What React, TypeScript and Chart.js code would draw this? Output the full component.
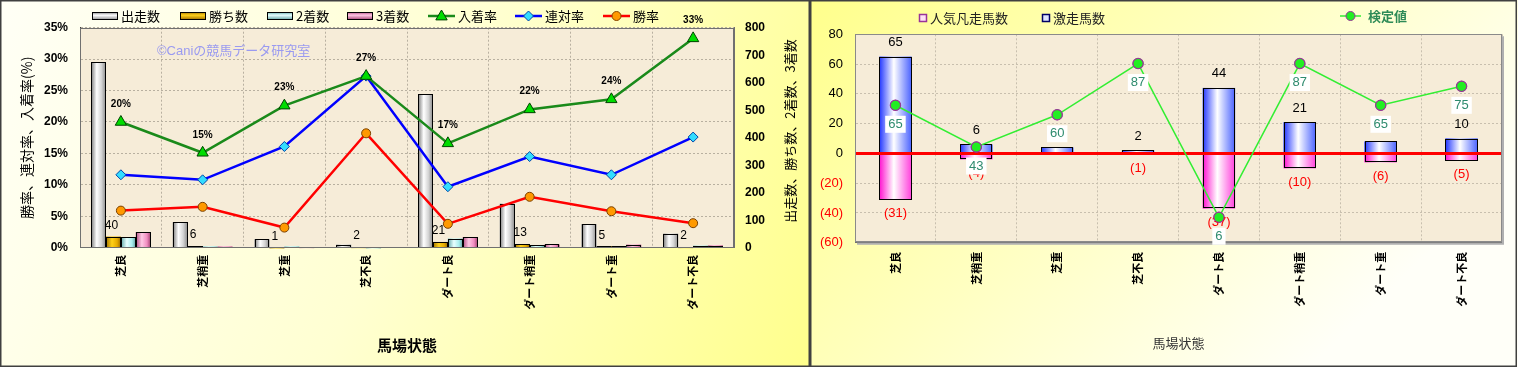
import React, { useEffect, useRef } from 'react';
import { Chart, registerables } from 'chart.js';

Chart.register(...registerables);

// ---------- data ----------
const categories = ['芝良', '芝稍重', '芝重', '芝不良', 'ダート良', 'ダート稍重', 'ダート重', 'ダート不良'];

// left chart: counts (right axis)
const runners = [674, 93, 31, 11, 558, 160, 86, 51];
const wins = [40, 6, 1, 2, 21, 13, 5, 2];
const seconds = [38, 4, 4, 1, 33, 10, 5, 7];
const thirds = [57, 4, 2, 0, 39, 12, 11, 8];
// left chart: rates in % (left axis)
const placeRate = [20.0, 15.1, 22.6, 27.3, 16.6, 22.0, 23.6, 33.3];
const quinellaRate = [11.6, 10.8, 16.1, 27.3, 9.7, 14.5, 11.6, 17.6];
const winRate = [5.9, 6.5, 3.2, 18.2, 3.8, 8.1, 5.8, 3.9];

// right chart
const surgeCount = [65, 6, 4, 2, 44, 21, 8, 10];
const flopCount = [-31, -4, 0, -1, -37, -10, -6, -5];
const testValue = [65, 43, 60, 87, 6, 87, 65, 75];

// ---------- styles ----------
const FONT = "'Liberation Sans', 'Noto Sans CJK JP', sans-serif";
const JFONT = "'Noto Sans CJK JP', 'Liberation Sans', sans-serif";

type Stops = [number, string][];
const GRAY: Stops = [[0, '#7a7a7a'], [0.38, '#ffffff'], [0.7, '#d4d4d4'], [1, '#8a8a8a']];
const GOLD: Stops = [[0, '#a07000'], [0.4, '#ffd21a'], [0.75, '#e6ac00'], [1, '#9a6800']];
const CYAN: Stops = [[0, '#5fa8a8'], [0.4, '#e8ffff'], [0.75, '#a8eeee'], [1, '#5f9f9f']];
const PINK: Stops = [[0, '#b04a80'], [0.4, '#ffc8e4'], [0.75, '#f08cc0'], [1, '#a04070']];
const BLUE: Stops = [[0, '#2236ff'], [0.45, '#ffffff'], [1, '#4a62ff']];
const MAGENTA: Stops = [[0, '#ff10d0'], [0.45, '#ffffff'], [1, '#ff40dc']];

function paintBars(ctx: CanvasRenderingContext2D, meta: any, stops: Stops) {
  meta.data.forEach((el: any) => {
    const { x, y, base, width } = el.getProps(['x', 'y', 'base', 'width'], true);
    let h = Math.abs(base - y);
    if (h < 0.01) return;
    if (h < 1) h = 1;
    const left = x - width / 2;
    const top = Math.min(y, base);
    const g = ctx.createLinearGradient(left, 0, left + width, 0);
    stops.forEach(([o, c]) => g.addColorStop(o, c));
    ctx.fillStyle = g;
    ctx.fillRect(left, top, width, h);
    ctx.strokeStyle = '#000';
    ctx.lineWidth = 1;
    const L = Math.round(left) + 0.5;
    const T = Math.round(top) + 0.5;
    const R = Math.round(left + width) - 0.5;
    let B = Math.round(top + h) - 0.5;
    if (B < T) B = T;
    ctx.strokeRect(L, T, R - L, B - T);
  });
}

function drawPointMarker(ctx: CanvasRenderingContext2D, style: string, x: number, y: number, r: number, fill: string, stroke: string) {
  ctx.beginPath();
  if (style === 'triangle') {
    ctx.moveTo(x, y - r);
    ctx.lineTo(x + r * 0.95, y + r * 0.65);
    ctx.lineTo(x - r * 0.95, y + r * 0.65);
    ctx.closePath();
  } else if (style === 'rectRot') {
    ctx.moveTo(x, y - r);
    ctx.lineTo(x + r, y);
    ctx.lineTo(x, y + r);
    ctx.lineTo(x - r, y);
    ctx.closePath();
  } else {
    ctx.arc(x, y, r, 0, Math.PI * 2);
  }
  ctx.fillStyle = fill;
  ctx.fill();
  ctx.strokeStyle = stroke;
  ctx.lineWidth = 1;
  ctx.stroke();
}

// ---------- left chart ----------
const leftPlugin = {
  id: 'leftDecor',
  beforeDraw(chart: any) {
    const { ctx, width, height, chartArea: a } = chart;
    ctx.save();
    const g = ctx.createLinearGradient(0, 0, width, height);
    g.addColorStop(0, '#fffff6');
    g.addColorStop(0.5, '#ffffd2');
    g.addColorStop(1, '#ffff8c');
    ctx.fillStyle = g;
    ctx.fillRect(0, 0, width, height);
    ctx.fillStyle = '#f6ecd8';
    ctx.fillRect(a.left, a.top, a.right - a.left, a.bottom - a.top);
    ctx.restore();
  },
  beforeDatasetsDraw(chart: any) {
    const { ctx } = chart;
    ctx.save();
    ctx.font = `13px ${FONT}`;
    ctx.fillStyle = '#9a9af0';
    ctx.textBaseline = 'middle';
    ctx.textAlign = 'left';
    ctx.fillText('©Caniの競馬データ研究室', 157, 51);
    ctx.restore();
  },
  afterDatasetDraw(chart: any, args: any) {
    const stopsByIndex = [GRAY, GOLD, CYAN, PINK];
    if (args.meta.type === 'bar') {
      const { ctx } = chart;
      ctx.save();
      paintBars(ctx, args.meta, stopsByIndex[args.index]);
      ctx.restore();
    }
  },
  afterDraw(chart: any) {
    const { ctx, width, height, chartArea: a } = chart;
    ctx.save();
    // plot frame
    ctx.strokeStyle = '#707070';
    ctx.lineWidth = 1;
    ctx.strokeRect(Math.round(a.left) + 0.5, Math.round(a.top) + 0.5, Math.round(a.right - a.left) - 1, Math.round(a.bottom - a.top) - 1);

    // win count labels
    const winMeta = chart.getDatasetMeta(1);
    ctx.font = `12px ${FONT}`;
    ctx.fillStyle = '#000';
    ctx.textAlign = 'center';
    ctx.textBaseline = 'middle';
    winMeta.data.forEach((el: any, i: number) => {
      ctx.fillText(String(wins[i]), el.x - 2, el.y - 11);
    });
    // place rate labels
    const placeMeta = chart.getDatasetMeta(4);
    ctx.font = `bold 10px ${FONT}`;
    placeMeta.data.forEach((el: any, i: number) => {
      ctx.fillText(`${Math.round(placeRate[i])}%`, el.x, el.y - 18);
    });

    // right axis title (reads bottom to top)
    ctx.save();
    ctx.translate(790, 131);
    ctx.rotate(-Math.PI / 2);
    ctx.font = `13px ${JFONT}`;
    ctx.fillStyle = '#000';
    ctx.textAlign = 'center';
    ctx.textBaseline = 'middle';
    ctx.fillText('出走数、勝ち数、2着数、3着数', 0, 0);
    ctx.restore();

    // legend
    const ly = 16;
    ctx.font = `13px ${JFONT}`;
    ctx.textAlign = 'left';
    ctx.textBaseline = 'middle';
    ctx.fillStyle = '#000';
    const barItems: [number, string, Stops][] = [
      [92, '出走数', GRAY], [180, '勝ち数', GOLD], [267, '2着数', CYAN], [347, '3着数', PINK],
    ];
    barItems.forEach(([x, t, st]) => {
      const g = ctx.createLinearGradient(0, ly - 4, 0, ly + 4);
      g.addColorStop(0, st[0][1]);
      g.addColorStop(0.4, st[1][1]);
      g.addColorStop(1, st[st.length - 1][1]);
      ctx.fillStyle = g;
      ctx.fillRect(x, ly - 4, 26, 8);
      ctx.strokeStyle = '#000';
      ctx.lineWidth = 1;
      ctx.strokeRect(x + 0.5, ly - 3.5, 25, 7);
      ctx.fillStyle = '#000';
      ctx.fillText(t, x + 29, ly);
    });
    const lineItems: [number, string, string, string, string, string, number][] = [
      [428, '入着率', '#1a8a1a', 'triangle', '#00dd00', '#004400', 6],
      [515, '連対率', '#0000ff', 'rectRot', '#33ddff', '#0044aa', 5],
      [603, '勝率', '#ff0000', 'circle', '#ff9900', '#884400', 4.5],
    ];
    lineItems.forEach(([x, t, c, st, f, s, r]) => {
      ctx.strokeStyle = c;
      ctx.lineWidth = 2.5;
      ctx.beginPath();
      ctx.moveTo(x, ly);
      ctx.lineTo(x + 27, ly);
      ctx.stroke();
      drawPointMarker(ctx, st, x + 13.5, ly, r, f, s);
      ctx.fillStyle = '#000';
      ctx.fillText(t, x + 30, ly);
    });

    // outer frame
    ctx.strokeStyle = '#404040';
    ctx.lineWidth = 1.5;
    ctx.strokeRect(0.75, 0.75, width - 1.5, height - 1.5);
    ctx.restore();
  },
};

function leftConfig(): any {
  return {
    type: 'bar',
    data: {
      labels: categories,
      datasets: [
        { type: 'bar', label: '出走数', data: runners, yAxisID: 'y1', backgroundColor: '#d0d0d0', borderWidth: 0, order: 1 },
        { type: 'bar', label: '勝ち数', data: wins, yAxisID: 'y1', backgroundColor: '#e6ac00', borderWidth: 0, order: 1 },
        { type: 'bar', label: '2着数', data: seconds, yAxisID: 'y1', backgroundColor: '#a8eeee', borderWidth: 0, order: 1 },
        { type: 'bar', label: '3着数', data: thirds, yAxisID: 'y1', backgroundColor: '#f08cc0', borderWidth: 0, order: 1 },
        {
          type: 'line', label: '入着率', data: placeRate, yAxisID: 'y', borderColor: '#1a8a1a', borderWidth: 2.5,
          pointStyle: 'triangle', pointRadius: 6.5, pointBackgroundColor: '#00dd00', pointBorderColor: '#004400',
          pointBorderWidth: 1, tension: 0, order: 0,
        },
        {
          type: 'line', label: '連対率', data: quinellaRate, yAxisID: 'y', borderColor: '#0000ff', borderWidth: 2.5,
          pointStyle: 'rectRot', pointRadius: 5, pointBackgroundColor: '#33ddff', pointBorderColor: '#0044aa',
          pointBorderWidth: 1, tension: 0, order: 0,
        },
        {
          type: 'line', label: '勝率', data: winRate, yAxisID: 'y', borderColor: '#ff0000', borderWidth: 2.5,
          pointStyle: 'circle', pointRadius: 4.5, pointBackgroundColor: '#ff9900', pointBorderColor: '#7a4000',
          pointBorderWidth: 1, tension: 0, order: 0,
        },
      ],
    },
    options: {
      responsive: false,
      animation: false,
      layout: { padding: { top: 27.7, left: 0, right: 0, bottom: 0 } },
      plugins: { legend: { display: false }, tooltip: { enabled: false } },
      datasets: { bar: { categoryPercentage: 0.73, barPercentage: 1.0 } },
      scales: {
        x: {
          offset: true,
          grid: { offset: true, color: '#b8b0a0', drawTicks: false },
          border: { display: true, color: '#404040', dash: [2, 2] },
          ticks: { autoSkip: false, minRotation: 90, maxRotation: 90, padding: 7, color: '#000', font: { family: JFONT, size: 11, weight: 'bold' } },
          title: { display: true, text: '馬場状態', color: '#000', font: { family: JFONT, size: 15, weight: 'bold', lineHeight: 1.2 }, padding: { top: 0, bottom: 13 } },
          afterFit: (s: any) => { s.height = 119.3; },
        },
        y: {
          position: 'left', min: 0, max: 35,
          grid: { color: '#b8b0a0', drawTicks: false },
          border: { display: true, color: '#404040', dash: [2, 2] },
          ticks: { stepSize: 5, padding: 12, color: '#000', font: { family: FONT, size: 12, weight: 'bold' }, callback: (v: any) => `${v}%` },
          title: { display: true, text: '勝率、連対率、入着率(%)', color: '#000', font: { family: JFONT, size: 14, lineHeight: 1.2 }, padding: { top: 18.6, bottom: 0 } },
          afterFit: (s: any) => { s.width = 80; },
        },
        y1: {
          position: 'right', min: 0, max: 800,
          grid: { display: false, drawTicks: false },
          border: { display: true, color: '#707070' },
          ticks: { stepSize: 100, padding: 11, color: '#000', font: { family: FONT, size: 12, weight: 'bold' } },
          afterFit: (s: any) => { s.width = 76; },
        },
      },
    },
    plugins: [leftPlugin],
  };
}

// ---------- right chart ----------
const rightPlugin = {
  id: 'rightDecor',
  beforeDraw(chart: any) {
    const { ctx, width, height, chartArea: a } = chart;
    ctx.save();
    const g = ctx.createLinearGradient(0, 0, width * 0.6, height * 1.2);
    g.addColorStop(0, '#ffff8c');
    g.addColorStop(0.5, '#ffffc0');
    g.addColorStop(1, '#fffff8');
    ctx.fillStyle = g;
    ctx.fillRect(0, 0, width, height);
    ctx.fillStyle = '#f6ecd8';
    ctx.fillRect(a.left, a.top, a.right - a.left, a.bottom - a.top);
    ctx.restore();
  },
  afterDatasetDraw(chart: any, args: any) {
    if (args.meta.type === 'bar') {
      const { ctx } = chart;
      ctx.save();
      paintBars(ctx, args.meta, args.index === 0 ? BLUE : MAGENTA);
      ctx.restore();
    }
  },
  beforeDatasetDraw(chart: any, args: any) {
    if (args.meta.type === 'line') {
      const { ctx, chartArea: a } = chart;
      const y0 = chart.scales.y.getPixelForValue(0);
      ctx.save();
      ctx.strokeStyle = '#ff0000';
      ctx.lineWidth = 3;
      ctx.beginPath();
      ctx.moveTo(a.left, y0);
      ctx.lineTo(a.right, y0);
      ctx.stroke();
      ctx.restore();
    }
  },
  afterDraw(chart: any) {
    const { ctx, width, height, chartArea: a } = chart;
    ctx.save();
    ctx.strokeStyle = '#8a8a8a';
    ctx.lineWidth = 1;
    ctx.strokeRect(Math.round(a.left) + 0.5, Math.round(a.top) + 0.5, Math.round(a.right - a.left) - 1, Math.round(a.bottom - a.top) - 1);
    ctx.strokeStyle = '#b0b0b0';
    ctx.lineWidth = 2;
    ctx.beginPath();
    ctx.moveTo(a.right + 1, a.top + 2);
    ctx.lineTo(a.right + 1, a.bottom + 1);
    ctx.lineTo(a.left + 2, a.bottom + 1);
    ctx.stroke();

    ctx.textAlign = 'center';
    ctx.textBaseline = 'middle';
    ctx.font = `13px ${FONT}`;
    // bar labels
    const pos = chart.getDatasetMeta(0);
    ctx.fillStyle = '#000';
    pos.data.forEach((el: any, i: number) => {
      if (surgeCount[i] > 0) ctx.fillText(String(surgeCount[i]), el.x, el.y - 14);
    });
    const neg = chart.getDatasetMeta(1);
    ctx.fillStyle = '#ff0000';
    neg.data.forEach((el: any, i: number) => {
      if (flopCount[i] < 0) ctx.fillText(`(${-flopCount[i]})`, el.x, el.y + 14);
    });
    // redraw line points on top of labels
    const lm = chart.getDatasetMeta(2);
    lm.data.forEach((el: any) => {
      drawPointMarker(ctx, 'circle', el.x, el.y, 5, '#22ee22', '#993399');
    });
    // test value labels
    lm.data.forEach((el: any, i: number) => {
      const t = String(testValue[i]);
      const w = ctx.measureText(t).width + 6;
      ctx.fillStyle = '#ffffff';
      ctx.fillRect(el.x - w / 2, el.y + 19 - 8.5, w, 17);
      ctx.fillStyle = '#2e8b6e';
      ctx.fillText(t, el.x, el.y + 19);
    });

    // legend
    const ly = 18;
    ctx.textAlign = 'left';
    ctx.font = `13px ${JFONT}`;
    const sq = (x: number, border: string, fill: string) => {
      ctx.fillStyle = fill;
      ctx.fillRect(x, ly - 4, 8, 8);
      ctx.strokeStyle = border;
      ctx.lineWidth = 1.5;
      ctx.strokeRect(x + 0.5, ly - 3.5, 7, 7);
    };
    sq(109, '#993399', '#ffe0f4');
    ctx.fillStyle = '#222';
    ctx.fillText('人気凡走馬数', 120, ly);
    sq(232, '#000066', '#dde4ff');
    ctx.fillStyle = '#222';
    ctx.fillText('激走馬数', 243, ly);
    ctx.strokeStyle = '#33ee33';
    ctx.lineWidth = 1.5;
    ctx.beginPath();
    ctx.moveTo(530, 16);
    ctx.lineTo(551, 16);
    ctx.stroke();
    drawPointMarker(ctx, 'circle', 540.5, 16, 4.5, '#22ee22', '#993399');
    ctx.fillStyle = '#2e8b57';
    ctx.font = `bold 13px ${JFONT}`;
    ctx.fillText('検定値', 558, 16);

    // frame
    ctx.strokeStyle = '#404040';
    ctx.lineWidth = 1.5;
    ctx.strokeRect(0.75, 0.75, width - 2.5, height - 1.5);
    ctx.restore();
  },
};

function rightConfig(): any {
  return {
    type: 'bar',
    data: {
      labels: categories,
      datasets: [
        { type: 'bar', label: '激走馬数', data: surgeCount, backgroundColor: '#6a80ff', borderWidth: 0, order: 1, stack: 's' },
        { type: 'bar', label: '人気凡走馬数', data: flopCount, backgroundColor: '#ff60dd', borderWidth: 0, order: 1, stack: 's' },
        {
          type: 'line', label: '検定値', data: testValue, yAxisID: 'y2', borderColor: '#33ee33', borderWidth: 1.5,
          pointRadius: 5, pointBackgroundColor: '#22ee22', pointBorderColor: '#993399', pointBorderWidth: 1.5,
          tension: 0, order: 0,
        },
      ],
    },
    options: {
      responsive: false,
      animation: false,
      layout: { padding: { top: 34.3, left: 0, right: 16, bottom: 0 } },
      plugins: { legend: { display: false }, tooltip: { enabled: false } },
      datasets: { bar: { categoryPercentage: 1.0, barPercentage: 0.4 } },
      scales: {
        x: {
          stacked: true,
          offset: true,
          grid: { offset: true, color: '#c8bfae', drawTicks: false },
          border: { display: true, color: '#707070', dash: [2, 2] },
          ticks: { autoSkip: false, minRotation: 90, maxRotation: 90, padding: 9, color: '#000', font: { family: JFONT, size: 11, weight: 'bold' } },
          title: { display: true, text: '馬場状態', color: '#333', font: { family: JFONT, size: 13, lineHeight: 1.2 }, padding: { top: 0, bottom: 16 } },
          afterFit: (s: any) => { s.height = 124.3; },
        },
        y: {
          stacked: true,
          min: -60, max: 80,
          grid: { color: '#c8bfae', drawTicks: false },
          border: { display: true, color: '#707070', dash: [2, 2] },
          ticks: {
            stepSize: 20, padding: 12, font: { family: FONT, size: 13 },
            color: (c: any) => (c.tick && c.tick.value < 0 ? '#ff0000' : '#000'),
            callback: (v: any) => (v < 0 ? `(${-v})` : `${v}`),
          },
          afterFit: (s: any) => { s.width = 45; },
        },
        y2: { display: false, min: -7.4, max: 102.4 },
      },
    },
    plugins: [rightPlugin],
  };
}

export default function App() {
  const leftRef = useRef<HTMLCanvasElement>(null);
  const rightRef = useRef<HTMLCanvasElement>(null);
  useEffect(() => {
    document.body.style.margin = '0';
    const c1 = new Chart(leftRef.current as HTMLCanvasElement, leftConfig());
    const c2 = new Chart(rightRef.current as HTMLCanvasElement, rightConfig());
    return () => {
      c1.destroy();
      c2.destroy();
    };
  }, []);
  return (
    <div style={{ position: 'relative', width: 1518, height: 369, background: '#ffffff' }}>
      <canvas ref={leftRef} width={810} height={367} style={{ position: 'absolute', left: 0, top: 0, width: 810, height: 367 }} />
      <canvas ref={rightRef} width={708} height={367} style={{ position: 'absolute', left: 810, top: 0, width: 708, height: 367 }} />
    </div>
  );
}
